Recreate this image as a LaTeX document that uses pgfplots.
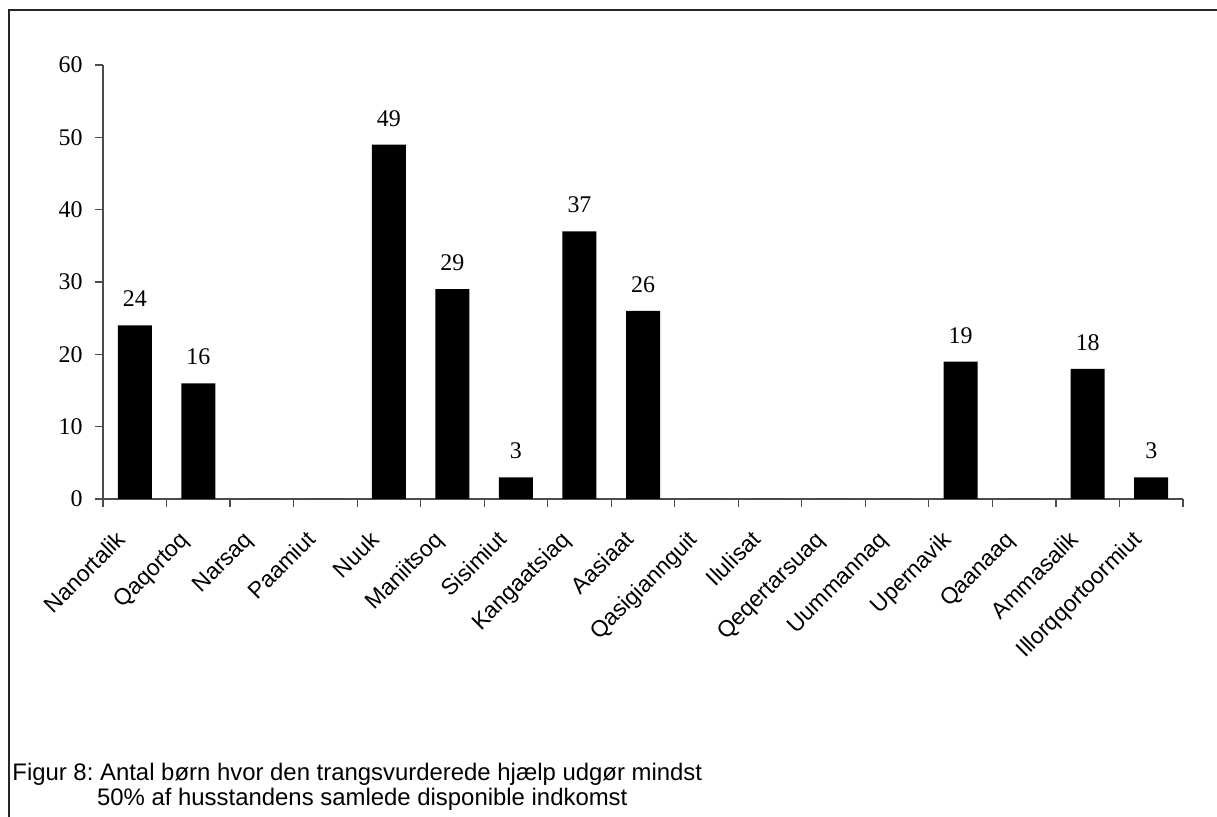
\documentclass[border=0pt]{standalone}
\usepackage{fontspec}
\setmainfont{Liberation Serif}
\newfontfamily\arial{Liberation Sans}
\usepackage{pgfplots}
\pgfplotsset{compat=1.18}

\begin{document}
\frenchspacing
\begin{tikzpicture}
\path[use as bounding box] (0,0) rectangle (608.5bp,408.5bp);
\draw[line width=1bp, black!85] (4.5bp,0) -- (4.5bp,403.5bp) -- (608.5bp,403.5bp);

\begin{axis}[
    at={(51.5bp,159bp)}, anchor=south west,
    scale only axis, width=540bp, height=217bp,
    ybar, bar width=17bp,
    xmin=-0.5, xmax=16.5, ymin=0, ymax=60,
    axis x line=bottom, axis y line=left,
    axis line style={-, black!70, line width=0.6bp},
    tick style={black!70, line width=0.6bp},
    tick align=outside, major tick length=4bp,
    ytick={0,10,...,60},
    xtick={-0.5,0.5,...,16.5},
    x tick label as interval,
    xticklabels={Nanortalik,Qaqortoq,Narsaq,Paamiut,Nuuk,Maniitsoq,Sisimiut,Kangaatsiaq,Aasiaat,Qasigiannguit,Ilulisat,Qeqertarsuaq,Uummannaq,Upernavik,Qaanaaq,Ammasalik,Illorqqortoormiut},
    xticklabel style={xshift=-4bp, yshift=-17bp, rotate=45, anchor=base east, inner sep=0pt,
        font=\arial\fontsize{11.5}{13}\selectfont},
    yticklabel style={anchor=east, inner sep=0pt, xshift=-6bp, font=\fontsize{12}{14}\selectfont},
    /pgf/number format/assume math mode=true,
    nodes near coords={\pgfmathfloatifflags{\pgfplotspointmeta}{0}{}{\pgfmathprintnumber{\pgfplotspointmeta}}},
    every node near coord/.append style={anchor=base, inner sep=0pt, yshift=9.25bp,
        font=\fontsize{12}{14}\selectfont, black},
]
\addplot[fill=black, draw=none] coordinates {
    (0,24) (1,16) (2,0) (3,0) (4,49) (5,29) (6,3) (7,37) (8,26)
    (9,0) (10,0) (11,0) (12,0) (13,19) (14,0) (15,18) (16,3)
};
\end{axis}

\node[anchor=base west, inner sep=0pt, font=\arial\fontsize{12}{14}\selectfont] at (6bp,18.5bp)
    {Figur 8: Antal børn hvor den trangsvurderede hjælp udgør mindst};
\node[anchor=base west, inner sep=0pt, font=\arial\fontsize{12}{14}\selectfont] at (4.5bp,6bp)
    {\phantom{Figur 8: }50\% af husstandens samlede disponible indkomst};
\end{tikzpicture}
\end{document}
